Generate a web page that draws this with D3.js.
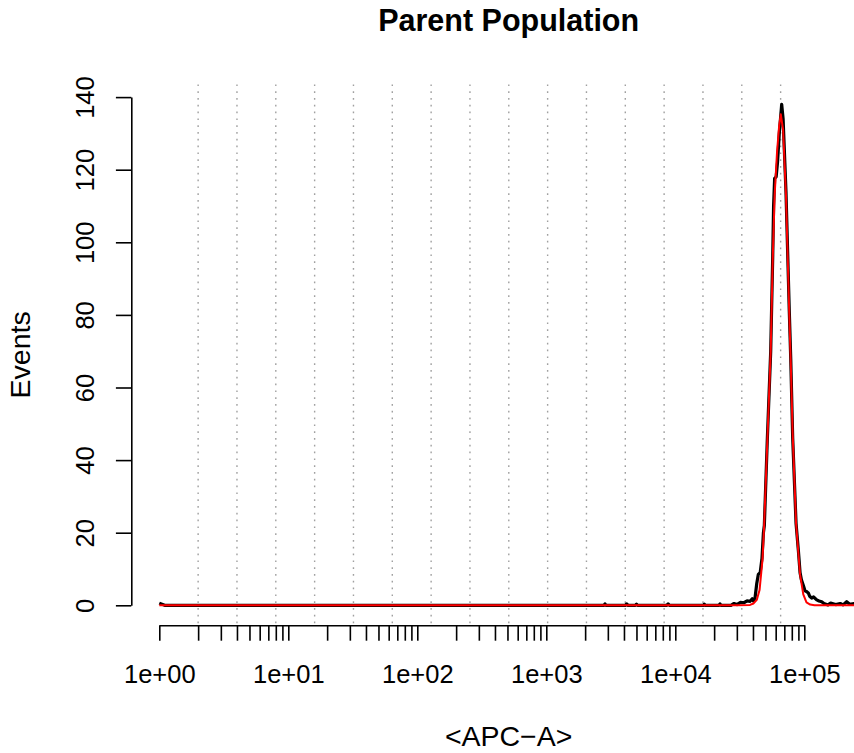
<!DOCTYPE html>
<meta charset="utf-8">
<style>
body { margin: 0; background: #fff; }
text { font-family: "Liberation Sans", Arial, Helvetica, sans-serif; fill: #000; }
</style>
<svg width="854" height="753"></svg>
<script src="https://d3js.org/d3.v7.min.js"></script>
<script>

// chart texts
var title = "Parent Population",
    xLabel = "<APC\u2212A>",
    yLabel = "Events";

// axis ticks
var yTicks = [0, 20, 40, 60, 80, 100, 120, 140];
var xMajor = [1, 10, 100, 1000, 10000, 100000];
var xMajorLabels = ["1e+00", "1e+01", "1e+02", "1e+03", "1e+04", "1e+05"];

// dotted vertical guides
var gridBreaks = [2, 4, 8, 16, 32, 64, 128, 256, 512, 1024, 2048, 4096,
                  8192, 16384, 32768, 65536];

// observed histogram (black)
var histX = [1, 1.1, 2800, 2850, 2900, 4100, 4200, 4300, 4900, 5000, 5100,
             8600, 8800, 9000, 16500, 16800, 17100, 21800, 22200, 22600,
             27000, 28500, 30000, 32000, 34000, 36000, 38000, 39500, 40300,
             41500, 42800, 44000, 45500, 47000, 48200, 49000, 51650, 54900,
             56900, 57800, 58900, 60500, 62000, 64000, 66800, 68500, 72100,
             76500, 78500, 81300, 86300, 90000, 92700, 95000, 98200, 101200,
             104000, 107400, 110000, 114100, 118000, 124800, 130000, 136400,
             142000, 152700, 160000, 175000, 190000, 200000, 213100, 225000,
             242800, 262144];
var histY = [0.6, 0, 0, 0.4, 0, 0, 0.4, 0, 0, 0.3, 0,
             0, 0.4, 0, 0, 0.3, 0, 0, 0.4, 0,
             0, 0.5, 0.2, 0.8, 0.7, 1.2, 1.1, 1.8, 1.2,
             2, 6, 8.5, 9, 13, 20, 22, 45.5, 70,
             96, 110, 117.6, 118, 122, 130, 138, 134, 114,
             81, 68, 46, 22.6, 15, 9, 7, 5.5, 4,
             3.8, 3.4, 2.5, 2, 2.3, 1.5, 1.2, 1,
             0.5, 0.1, 0.6, 0.2, 0.5, 0.1, 1, 0.3,
             0.5, 0.2];

// fitted curve (red)
var fitX = [1, 30000, 38000, 40300, 42800, 45000, 47400, 48700, 51650, 54900,
            56900, 58900, 61500, 63800, 65700, 68500, 72100, 76500, 78500,
            81300, 86300, 92700, 98200, 104000, 111000, 120000, 262144];
var fitY = [0, 0, 0.1, 0.5, 1.5, 4.2, 12.5, 21, 45, 70,
            95, 113, 125, 132, 135.3, 131, 113, 80, 67,
            47, 22.6, 8.5, 3, 0.8, 0.2, 0, 0];

var svg = d3.select("svg");

var plotTop = 84.4, plotBottom = 625.3, plotLeft = 131.3, plotRight = 886;

var x = d3.scaleLog().domain([1, 1e5]).range([159.3, 804.3]);
var y = d3.scaleLinear().domain([0, 140]).range([605.3, 97.1]);

// grid
svg.append("g")
  .selectAll("line")
  .data(gridBreaks)
  .enter().append("line")
    .attr("x1", function(d) { return x(d); })
    .attr("x2", function(d) { return x(d); })
    .attr("y1", plotTop)
    .attr("y2", plotBottom)
    .attr("stroke", "#a0a0a0")
    .attr("stroke-width", 1.4)
    .attr("stroke-dasharray", "1.7,5.1");

var line = d3.line()
    .x(function(d) { return x(d[0]); })
    .y(function(d) { return y(d[1]); });

svg.append("path")
    .datum(d3.zip(histX, histY))
    .attr("d", line)
    .attr("fill", "none")
    .attr("stroke", "#000")
    .attr("stroke-width", 3.2)
    .attr("stroke-linejoin", "round");

svg.append("path")
    .datum(d3.zip(fitX, fitY))
    .attr("d", line)
    .attr("fill", "none")
    .attr("stroke", "#ff0000")
    .attr("stroke-width", 2)
    .attr("stroke-linejoin", "round");

// x axis
var xAxis = svg.append("g")
    .attr("transform", "translate(0," + plotBottom + ")")
    .call(d3.axisBottom(x)
      .tickValues(x.ticks())
      .tickSize(15.4)
      .tickSizeOuter(0)
      .tickPadding(0)
      .tickFormat(function(d) {
        var i = xMajor.indexOf(d);
        return i < 0 ? "" : xMajorLabels[i];
      }));
xAxis.selectAll("path, line").attr("stroke", "#000").attr("stroke-width", 1.6);
xAxis.selectAll("text")
    .attr("y", 682.6 - plotBottom)
    .attr("dy", null)
    .style("font-size", "25.5px")
    .style("font-family", "'Liberation Sans', Arial, sans-serif");

// y axis
var yAxis = svg.append("g")
    .attr("transform", "translate(" + plotLeft + ",0)")
    .call(d3.axisLeft(y)
      .tickValues(yTicks)
      .tickSize(15.4)
      .tickSizeOuter(0));
yAxis.selectAll("path, line").attr("stroke", "#000").attr("stroke-width", 1.6);
yAxis.selectAll("text")
    .attr("x", null)
    .attr("dy", null)
    .attr("text-anchor", "middle")
    .attr("transform", "translate(" + (93.5 - plotLeft) + ",0) rotate(-90)")
    .style("font-size", "25.5px")
    .style("font-family", "'Liberation Sans', Arial, sans-serif");

// titles
svg.append("text")
    .attr("x", (plotLeft + plotRight) / 2)
    .attr("y", 31)
    .attr("text-anchor", "middle")
    .style("font-size", "30.5px")
    .style("font-weight", "bold")
    .text(title);

svg.append("text")
    .attr("x", (plotLeft + plotRight) / 2)
    .attr("y", 746)
    .attr("text-anchor", "middle")
    .style("font-size", "28.5px")
    .text(xLabel);

svg.append("text")
    .attr("transform", "translate(30," + ((plotTop + plotBottom) / 2) + ") rotate(-90)")
    .attr("text-anchor", "middle")
    .style("font-size", "28.5px")
    .text(yLabel);

</script>
